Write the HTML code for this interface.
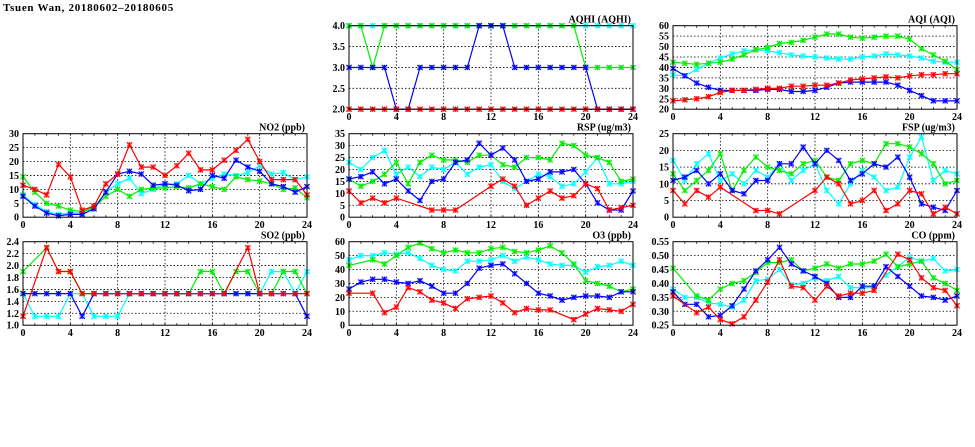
<!DOCTYPE html>
<html><head><meta charset="utf-8"><style>
html,body{margin:0;padding:0;background:#fff;}
svg{display:block;font-family:"Liberation Sans",sans-serif;}
.t{font-family:"Liberation Serif",serif;font-weight:bold;}
</style></head><body>
<svg id="chart" width="975" height="447" viewBox="0 0 975 447">
<text class="t" x="3" y="11" font-size="11" letter-spacing="0.7">Tsuen Wan, 20180602–20180605</text>
</svg>
<script>
const hours = [0,1,2,3,4,5,6,7,8,9,10,11,12,13,14,15,16,17,18,19,20,21,22,23,24];
const xTicks = [0,4,8,12,16,20,24];
const N = null;
// AQHI
const aqhiCyan  = [4,4,4,4,4,4,4,4,4,4,4,4,4,4,4,4,4,4,4,4,4,4,4,4,4];
const aqhiGreen = [4,4,3,4,4,4,4,4,4,4,4,4,4,4,4,4,4,4,4,4,3,3,3,3,3];
const aqhiBlue  = [3,3,3,3,2,2,3,3,3,3,3,4,4,4,3,3,3,3,3,3,3,2,2,2,2];
const aqhiRed   = [2,2,2,2,2,2,2,2,2,2,2,2,2,2,2,2,2,2,2,2,2,2,2,2,2];
const aqhiTicks = [2.0,2.5,3.0,3.5,4.0];
// AQI
const aqiGreen = [42.5,42,41.5,42,42.5,44,46,48.5,49.5,51.5,52,53,54.5,56,56,54.5,54,54.5,55,55,53.5,49,46,43,39];
const aqiCyan  = [36.5,36,39,42,44.5,46.5,48,48.5,48,47,46,45.5,45,44.5,44,44,45,45.5,46.5,46,45.5,44.5,43,42.5,42.5];
const aqiBlue  = [39.5,36,32.5,30.5,29,29,29,29,29.5,29.5,28.5,28.5,29,30.5,32.5,33,33,33,33,31.5,29,26.5,24,24,24];
const aqiRed   = [24,24.5,25,26,28,29,29,29.5,30,30,31,31,31.5,31.5,32.5,34,34.5,35,35.5,35,36,36.5,36.5,37,37];
const aqiTicks = [20,25,30,35,40,45,50,55,60];
// NO2
const no2Red   = [11.5,10,8,19,14.5,2.5,4,12,15.5,26,18,18,15,18.5,23,17,17,20.5,24,28,20,13.5,13.5,13.5,8];
const no2Blue  = [7.5,4,1.5,0.5,1,1,3,9,15.5,16.5,15.5,11.5,12,11.5,9.5,10,15,14,20.5,18,16.5,12,11,9,11];
const no2Cyan  = [8,4.5,2,1,1.5,1.5,3.5,9,12,14,8.5,10,12,12,15,12,14,15.5,15,16,18.5,15.5,16,13.5,14.5];
const no2Green = [14.5,9,5,4,2.5,2,3.5,7.5,10,7.5,10,10.5,10.5,11,10.5,12,11,10,14.5,13.5,13,12,10,10.5,7];
const no2Ticks = [0,5,10,15,20,25,30];
// RSP
const rspGreen = [16,13,15,18,23,14,23,26,24,24,23,26,26,22,21,25,25,24,31,30,26,25,23,15,16];
const rspCyan  = [23,20,25,28,18,21,17,21,20,23,18,21,22,15,12,15,18,17,13,14,19,25,14,14,15];
const rspBlue  = [16,17,19,14,16,11,7,15,16,23,24,31,26,29,24,15,16,19,19,20,14,6,3,3,11];
const rspRed   = [11,6,8,6,8,N,N,3,3,3,N,N,13,16,13,5,8,11,8,9,14,12,3,4,5];
const rspTicks = [0,5,10,15,20,25,30,35];
// FSP
const fspGreen = [13,8,11,14,19,8,14,18,15,14,13,16,17,12,11,16,17,16,22,22,21,19,16,10,11];
const fspCyan  = [17,11,16,19,11,13,10,14,12,16,11,14,16,8,4,10,14,12,8,9,18,24,11,14,13];
const fspBlue  = [11,12,14,10,13,8,7,11,11,16,16,21,16,20,17,11,13,16,15,18,12,4,3,2,8];
const fspRed   = [8,4,8,6,9,N,N,2,2,1,N,N,8,12,10,4,5,8,2,4,8,7,1,3,1];
const fspTicks = [0,5,10,15,20,25];
// SO2
const so2Cyan  = [1.53,1.15,1.15,1.15,1.53,1.53,1.15,1.15,1.15,1.53,1.53,1.53,1.53,1.53,1.53,1.53,1.53,1.53,1.53,1.53,1.53,1.9,1.9,1.53,1.9];
const so2Green = [1.9,N,2.3,1.9,1.9,1.53,1.53,1.53,1.53,1.53,1.53,1.53,1.53,1.53,1.53,1.9,1.9,1.53,1.9,1.9,1.53,1.53,1.9,1.9,1.53];
const so2Blue  = [1.53,1.53,1.53,1.53,1.53,1.15,1.53,1.53,1.53,1.53,1.53,1.53,1.53,1.53,1.53,1.53,1.53,1.53,1.53,1.53,1.53,1.53,1.53,1.53,1.15];
const so2Red   = [1.15,N,2.3,1.9,1.9,1.53,1.53,1.53,1.53,1.53,1.53,1.53,1.53,1.53,1.53,1.53,1.53,1.53,N,2.3,1.53,1.53,1.53,1.53,1.53];
const so2Ticks = [1.0,1.2,1.4,1.6,1.8,2.0,2.2,2.4];
// O3
const o3Green = [43,N,47,44,50,56,59,55,52,54,52,52,55,56,53,52,54,57,52,44,32,30,28,24,26];
const o3Cyan  = [47,50,50,52,51,52,48,43,40,39,46,46,47,50,46,49,47,44,43,43,38,42,43,46,43];
const o3Blue  = [26,31,33,33,31,30,32,28,23,23,30,41,43,44,37,30,23,21,18,20,21,21,20,24,24];
const o3Red   = [23,N,23,9,13,27,24,18,16,12,19,20,21,16,9,12,11,11,N,4,8,12,11,10,15];
const o3Ticks = [0,10,20,30,40,50,60];
// CO
const coGreen = [.455,N,.355,.34,.38,.40,.41,.44,.475,.475,.485,.445,.455,.47,.455,.47,.47,.48,.505,.46,.47,.48,.42,.40,.375];
const coCyan  = [.38,.35,.35,.33,.325,.315,.34,.41,.415,.45,.395,.40,.42,.41,.425,.385,.385,.385,.43,.46,.495,.48,.49,.445,.45];
const coBlue  = [.37,.325,.325,.28,.285,.32,.38,.445,.485,.53,.47,.445,.425,.40,.35,.35,.39,.39,.46,.425,.39,.355,.35,.34,.355];
const coRed   = [.355,N,.295,.315,.27,.255,.28,.34,.405,.485,.39,.385,.34,.39,.355,.365,.365,.375,N,.505,.485,.42,.385,.375,.32];
const coTicks = [.25,.30,.35,.40,.45,.50,.55];

const NS = 'http://www.w3.org/2000/svg';
const svg = document.getElementById('chart');
function mk(tag, attrs, parent){
  const e = document.createElementNS(NS, tag);
  for (const k in attrs) e.setAttribute(k, attrs[k]);
  (parent||svg).appendChild(e);
  return e;
}
const COLORS = {cyan:'#00ffff', green:'#00ee00', blue:'#0000ff', red:'#ff0000'};
const W = 284, H = 83.5;

function panel(name, title, left, top, ticks, dec, series){
  const g = mk('g', {});
  
  
  const ymin = ticks[0], ymax = ticks[ticks.length-1];
  const xs = h => left + h / 24 * W;
  const ys = v => top + H - (v - ymin) / (ymax - ymin) * H;
  ticks.forEach(t => {
    const y = ys(t);
    if (t !== ymin && t !== ymax) {
      const l = mk('line', {x1:left, x2:left+W, y1:y, y2:y, stroke:'#000', 'stroke-width':0.8, 'stroke-dasharray':'1.5,2'}, g);
      
      
    }
    const tx = mk('text', {x:left-4, y:y+3.5, 'text-anchor':'end', 'font-size':10, class:'t'}, g);
    
    
    tx.textContent = t.toFixed(dec);
  });
  xTicks.forEach(h => {
    const x = xs(h);
    if (h !== 0 && h !== 24) {
      const l = mk('line', {x1:x, x2:x, y1:top, y2:top+H, stroke:'#000', 'stroke-width':0.8, 'stroke-dasharray':'1.5,2'}, g);
      
      
    }
    const tx = mk('text', {x:x, y:top+H+11, 'text-anchor':'middle', 'font-size':10, class:'t'}, g);
    
    
    tx.textContent = h;
  });
  hours.forEach(h => {
    const x = xs(h);
    mk('line', {x1:x, x2:x, y1:top+H, y2:top+H-2, stroke:'#000', 'stroke-width':0.8}, g);
    mk('line', {x1:x, x2:x, y1:top, y2:top+2, stroke:'#000', 'stroke-width':0.8}, g);
  });
  series.forEach(([cname, vals]) => {
    const col = COLORS[cname];
    const pts = [];
    vals.forEach((v, i) => { if (v !== null) pts.push([xs(hours[i]), ys(v)]); });
    const pl = mk('polyline', {points: pts.map(p => p[0].toFixed(1)+','+p[1].toFixed(1)).join(' '), fill:'none', stroke:col, 'stroke-width':1.2}, g);
    
    
    pts.forEach(p => {
      const m = mk('g', {stroke:col, 'stroke-width':1}, g);
      
      
      const r = 2.6;
      mk('rect', {x:p[0]-r, y:p[1]-r, width:2*r, height:2*r, fill:col, 'fill-opacity':0.35, stroke:'none'}, m);
      mk('line', {x1:p[0]-r, y1:p[1]-r, x2:p[0]+r, y2:p[1]+r}, m);
      mk('line', {x1:p[0]-r, y1:p[1]+r, x2:p[0]+r, y2:p[1]-r}, m);
      mk('line', {x1:p[0], y1:p[1]-r, x2:p[0], y2:p[1]+r}, m);
    });
  });
  const fr = mk('rect', {x:left, y:top, width:W, height:H, fill:'none', stroke:'#000', 'stroke-width':1}, g);
  
  
  const tt = mk('text', {x:left+W-2, y:top-3, 'text-anchor':'end', 'font-size':10, class:'t'}, g);
  
  
  tt.textContent = title;
}
const C1 = 23, C2 = 349, C3 = 673, R1 = 25.7, R2 = 133.7, R3 = 241.7;
panel('aqhi', 'AQHI (AQHI)', C2, R1, aqhiTicks, 1, [['cyan',aqhiCyan],['green',aqhiGreen],['blue',aqhiBlue],['red',aqhiRed]]);
panel('aqi', 'AQI (AQI)', C3, R1, aqiTicks, 0, [['cyan',aqiCyan],['green',aqiGreen],['blue',aqiBlue],['red',aqiRed]]);
panel('no2', 'NO2 (ppb)', C1, R2, no2Ticks, 0, [['cyan',no2Cyan],['green',no2Green],['blue',no2Blue],['red',no2Red]]);
panel('rsp', 'RSP (ug/m3)', C2, R2, rspTicks, 0, [['cyan',rspCyan],['green',rspGreen],['blue',rspBlue],['red',rspRed]]);
panel('fsp', 'FSP (ug/m3)', C3, R2, fspTicks, 0, [['cyan',fspCyan],['green',fspGreen],['blue',fspBlue],['red',fspRed]]);
panel('so2', 'SO2 (ppb)', C1, R3, so2Ticks, 1, [['cyan',so2Cyan],['green',so2Green],['blue',so2Blue],['red',so2Red]]);
panel('o3', 'O3 (ppb)', C2, R3, o3Ticks, 0, [['cyan',o3Cyan],['green',o3Green],['blue',o3Blue],['red',o3Red]]);
panel('co', 'CO (ppm)', C3, R3, coTicks, 2, [['cyan',coCyan],['green',coGreen],['blue',coBlue],['red',coRed]]);
</script>
</body></html>
